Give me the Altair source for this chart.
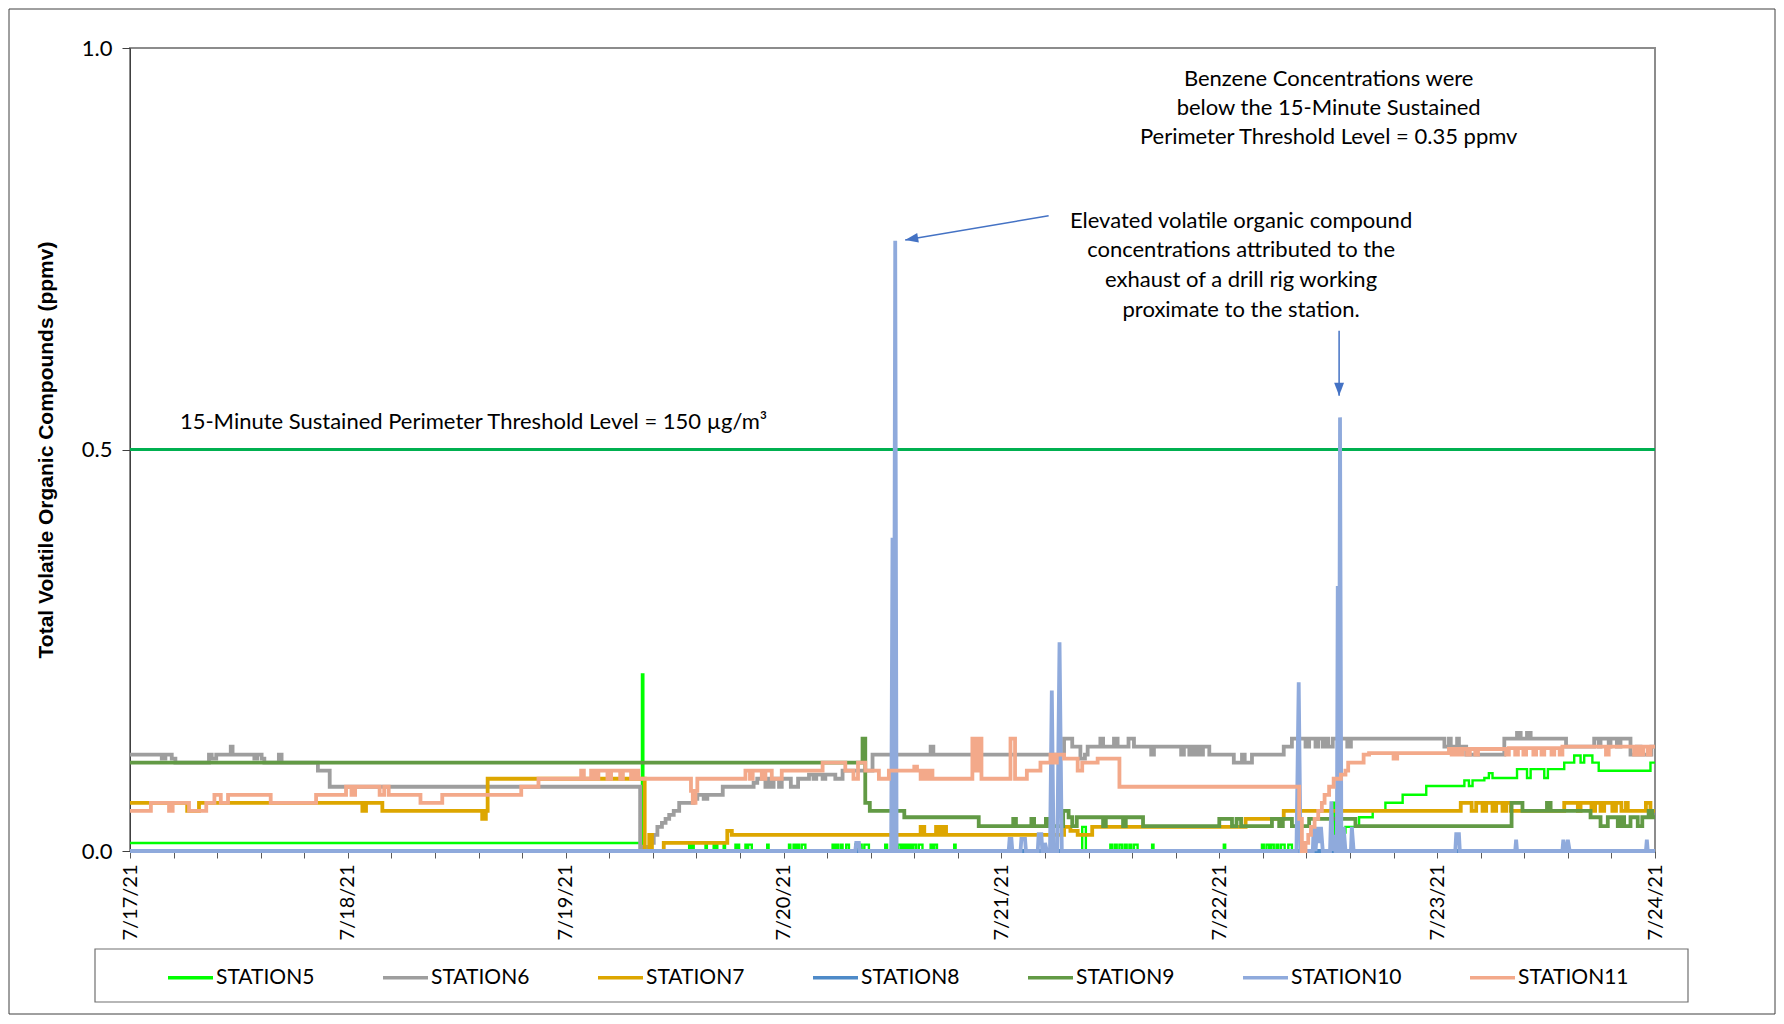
import altair as alt
import pandas as pd

STATIONS = ["STATION5", "STATION6", "STATION7", "STATION8", "STATION9", "STATION10", "STATION11"]
COLORS = ["#00FF00", "#9E9E9E", "#DDA600", "#4E8AC8", "#629A45", "#8FAADC", "#F3A98A"]

# (hours after 7/17/21 00:00, ppmv)
S5 = [(0, 0.01), (56.4, 0.22), (56.55, 0.0),
      (61.6, 0.008), (61.8, 0), (61.9, 0.008), (62.1, 0), (63.4, 0.008), (63.55, 0), (64.3, 0.008), (64.45, 0),
      (64.55, 0.008), (64.7, 0), (65.4, 0.008), (65.55, 0), (66.7, 0.008), (66.85, 0), (66.95, 0.008), (67.1, 0),
      (67.8, 0.008), (68.0, 0), (68.1, 0.008), (68.5, 0), (70.2, 0.008), (70.35, 0), (72.6, 0.008), (72.75, 0),
      (73.1, 0.008), (73.3, 0), (73.5, 0.008), (73.7, 0), (74.0, 0.008), (74.4, 0), (77.4, 0.008), (77.6, 0),
      (77.8, 0.008), (78.0, 0), (78.3, 0.008), (78.5, 0), (78.9, 0.008), (79.2, 0), (79.9, 0.008), (80.1, 0),
      (80.3, 0.008), (80.6, 0), (80.9, 0.008), (81.4, 0), (83.2, 0.008), (83.4, 0), (84.6, 0.008), (84.9, 0),
      (85.1, 0.008), (85.3, 0), (85.5, 0.008), (85.7, 0), (85.9, 0.008), (86.1, 0), (86.3, 0.008), (86.6, 0),
      (86.9, 0.008), (87.3, 0), (88.2, 0.008), (88.4, 0), (88.6, 0.008), (88.9, 0), (90.8, 0.008), (90.95, 0),
      (104.9, 0.03), (105.3, 0), (108.0, 0.008), (108.2, 0), (108.5, 0.008), (108.7, 0), (109.0, 0.008), (109.3, 0),
      (109.6, 0.008), (109.8, 0), (110.1, 0.008), (110.3, 0), (110.6, 0.008), (111.0, 0), (112.6, 0.008), (112.75, 0),
      (120.5, 0.008), (120.65, 0), (124.7, 0.008), (124.9, 0), (125.2, 0.008), (125.5, 0), (125.7, 0.008), (126.0, 0),
      (126.3, 0.008), (126.5, 0), (126.8, 0.008), (127.2, 0), (127.6, 0.008), (128.0, 0), (132.6, 0.06), (132.75, 0),
      (133.2, 0.023), (133.9, 0.03), (135.4, 0.042), (136.9, 0.05), (138.3, 0.06), (140.2, 0.07), (142.8, 0.081),
      (147.0, 0.088), (147.5, 0.081), (147.9, 0.088), (149.2, 0.091), (149.7, 0.097), (150.1, 0.091), (152.8, 0.102),
      (153.9, 0.091), (154.3, 0.102), (155.8, 0.091), (156.2, 0.102), (158.0, 0.11), (159.1, 0.119), (159.8, 0.11),
      (160.2, 0.119), (161.1, 0.11), (161.8, 0.10), (167.5, 0.11), (168, 0.11)]

S6 = [(0, 0.12), (3.5, 0.115), (3.9, 0.12), (4.6, 0.115), (5.0, 0.11), (8.7, 0.12), (9.0, 0.115), (9.5, 0.12),
      (11.1, 0.13), (11.3, 0.12), (13.7, 0.115), (14.0, 0.12), (14.5, 0.115), (14.8, 0.11), (16.4, 0.12), (16.7, 0.11),
      (20.7, 0.10), (22.0, 0.08), (56.2, 0.005), (57.4, 0.01), (57.7, 0.02), (58.1, 0.03), (58.6, 0.035), (59.0, 0.04),
      (59.4, 0.045), (59.9, 0.05), (60.5, 0.06), (62.1, 0.065), (62.5, 0.07), (63.2, 0.065), (63.6, 0.07), (65.3, 0.08),
      (68.7, 0.085), (69.1, 0.09), (70.0, 0.08), (70.3, 0.09), (70.6, 0.08), (70.9, 0.09), (71.5, 0.08), (71.8, 0.09),
      (72.8, 0.08), (73.6, 0.09), (74.8, 0.095), (75.3, 0.09), (75.6, 0.095), (76.3, 0.09), (76.6, 0.095), (77.7, 0.09),
      (78.5, 0.10), (81.8, 0.12), (88.2, 0.13), (88.5, 0.12), (102.9, 0.14), (103.8, 0.13), (104.7, 0.115),
      (105.2, 0.12), (105.5, 0.13), (106.9, 0.14), (107.2, 0.13), (108.4, 0.14), (108.8, 0.13), (110.0, 0.14),
      (110.6, 0.13), (112.5, 0.12), (112.8, 0.13), (115.8, 0.12), (116.1, 0.13), (116.7, 0.12), (117.0, 0.13),
      (117.3, 0.12), (117.6, 0.13), (117.9, 0.12), (118.2, 0.13), (118.9, 0.12), (121.6, 0.11), (122.5, 0.12),
      (122.8, 0.11), (123.6, 0.12), (127.1, 0.13), (128.0, 0.14), (129.5, 0.13), (129.9, 0.14), (130.6, 0.13),
      (130.9, 0.14), (131.4, 0.13), (131.7, 0.14), (132.0, 0.13), (132.5, 0.14), (134.1, 0.13), (134.5, 0.14),
      (144.8, 0.13), (145.3, 0.14), (145.5, 0.13), (146.2, 0.14), (146.4, 0.13), (147.2, 0.12), (151.4, 0.14),
      (152.8, 0.147), (153.2, 0.14), (153.9, 0.147), (154.3, 0.14), (158.2, 0.13), (161.3, 0.14), (161.8, 0.13),
      (162.0, 0.14), (162.9, 0.13), (163.1, 0.14), (163.8, 0.13), (164.2, 0.14), (165.3, 0.12), (166.0, 0.13),
      (166.4, 0.12), (167.6, 0.13), (168, 0.13)]

S7 = [(0, 0.06), (6.3, 0.05), (7.6, 0.06), (25.6, 0.05), (26.0, 0.06), (27.8, 0.05), (38.8, 0.04), (39.2, 0.05),
      (39.4, 0.09), (56.7, 0.0), (57.2, 0.02), (57.5, 0.0), (58.8, 0.01), (65.8, 0.025), (66.3, 0.02), (87.1, 0.03),
      (87.5, 0.02), (88.8, 0.03), (89.2, 0.02), (89.5, 0.03), (89.9, 0.02), (102.9, 0.03), (103.6, 0.025),
      (104.4, 0.02), (106.0, 0.03), (122.9, 0.04), (127.1, 0.05), (146.6, 0.06), (147.8, 0.05), (148.3, 0.06),
      (149.0, 0.05), (149.4, 0.06), (150.1, 0.05), (150.5, 0.06), (151.2, 0.05), (151.6, 0.06), (152.1, 0.05),
      (158.0, 0.06), (159.5, 0.05), (159.8, 0.06), (161.0, 0.05), (161.4, 0.06), (162.0, 0.05), (162.4, 0.06),
      (163.3, 0.05), (163.7, 0.06), (164.3, 0.05), (164.8, 0.06), (165.0, 0.05), (167.0, 0.06), (167.5, 0.05),
      (168, 0.05)]

S8 = [(0, 0.0), (168, 0.0)]

S9 = [(0, 0.11), (80.7, 0.14), (81.0, 0.06), (81.5, 0.05), (85.3, 0.042), (93.5, 0.031), (97.3, 0.04), (97.6, 0.031),
      (99.3, 0.04), (99.6, 0.031), (100.9, 0.04), (101.1, 0.031), (102.8, 0.05), (103.4, 0.042), (103.8, 0.031),
      (104.3, 0.042), (107.2, 0.031), (107.5, 0.042), (109.4, 0.031), (109.7, 0.042), (111.6, 0.031), (120.0, 0.04),
      (121.4, 0.031), (121.9, 0.04), (122.4, 0.031), (125.8, 0.04), (126.6, 0.031), (127.0, 0.04), (128.0, 0.031),
      (129.9, 0.04), (135.0, 0.031), (152.2, 0.06), (153.4, 0.05), (156.1, 0.06), (156.5, 0.05), (160.9, 0.042),
      (162.0, 0.031), (162.8, 0.042), (163.9, 0.031), (164.3, 0.042), (164.6, 0.031), (165.3, 0.042), (166.1, 0.031),
      (166.6, 0.042), (167.3, 0.05), (167.7, 0.042), (168, 0.042)]

S10 = [(0, 0), (79.9, 0), (80.0, 0.01), (80.3, 0.01), (80.4, 0),
       (83.85, 0), (84.0, 0.39), (84.1, 0), (84.15, 0), (84.3, 0.76), (84.45, 0),
       (96.8, 0), (96.9, 0.015), (97.1, 0.015), (97.2, 0), (98.1, 0), (98.2, 0.015), (98.6, 0.015), (98.7, 0),
       (100.0, 0), (100.1, 0.021), (100.4, 0.021), (100.5, 0), (100.7, 0), (100.8, 0.01), (101.0, 0),
       (101.35, 0), (101.55, 0.2), (101.75, 0), (102.15, 0), (102.4, 0.26), (102.65, 0),
       (128.5, 0), (128.75, 0.21), (128.95, 0),
       (130.3, 0), (130.4, 0.03), (130.6, 0.0), (130.8, 0.03), (131.0, 0.01), (131.2, 0.03), (131.4, 0),
       (132.2, 0), (132.35, 0.062), (132.5, 0), (132.6, 0.02), (132.8, 0),
       (132.95, 0), (133.05, 0.33), (133.12, 0), (133.18, 0), (133.3, 0.54), (133.45, 0),
       (133.6, 0), (133.7, 0.03), (133.9, 0), (134.5, 0), (134.6, 0.03), (134.8, 0),
       (146.0, 0), (146.1, 0.021), (146.4, 0.021), (146.5, 0), (152.6, 0), (152.7, 0.014), (152.8, 0),
       (157.8, 0), (157.9, 0.014), (158.1, 0), (158.3, 0), (158.4, 0.014), (158.6, 0),
       (167.0, 0), (167.1, 0.014), (167.2, 0), (168, 0)]

S11 = [(0, 0.05), (2.3, 0.06), (4.3, 0.05), (4.7, 0.06), (6.5, 0.05), (8.4, 0.06), (9.3, 0.07), (10.0, 0.06),
       (10.8, 0.07), (15.5, 0.06), (20.5, 0.07), (23.8, 0.08), (24.4, 0.07), (24.8, 0.08), (27.5, 0.07), (28.0, 0.08),
       (28.5, 0.07), (32.0, 0.06), (34.4, 0.07), (43.1, 0.08), (45.0, 0.09), (49.7, 0.10), (50.0, 0.09), (50.8, 0.10),
       (51.2, 0.09), (51.6, 0.10), (52.6, 0.09), (53.0, 0.10), (54.0, 0.09), (54.3, 0.10), (55.2, 0.09), (55.6, 0.10),
       (56.0, 0.09), (61.8, 0.075), (62.0, 0.06), (62.3, 0.075), (62.5, 0.09), (67.8, 0.10), (68.3, 0.09),
       (68.6, 0.10), (69.6, 0.09), (70.0, 0.10), (70.7, 0.09), (71.8, 0.10), (76.3, 0.11), (78.8, 0.10), (79.7, 0.09),
       (80.2, 0.11), (81.0, 0.10), (82.5, 0.09), (83.6, 0.10), (86.4, 0.105), (86.7, 0.10), (87.1, 0.09),
       (87.5, 0.10), (87.8, 0.09), (88.1, 0.10), (88.4, 0.09), (92.8, 0.14), (93.1, 0.10), (93.4, 0.14), (93.8, 0.09),
       (97.0, 0.14), (97.5, 0.09), (98.8, 0.10), (100.3, 0.11), (101.4, 0.12), (101.8, 0.11), (102.1, 0.12),
       (102.9, 0.115), (104.4, 0.10), (104.9, 0.11), (106.6, 0.115), (109.0, 0.08), (128.8, 0.04), (129.1, 0.0),
       (129.5, 0.01), (129.8, 0.02), (130.1, 0.03), (130.5, 0.04), (130.9, 0.05), (131.3, 0.06), (131.6, 0.07),
       (132.1, 0.08), (132.6, 0.09), (133.4, 0.095), (133.9, 0.10), (134.2, 0.11), (135.9, 0.12), (136.5, 0.122),
       (139.2, 0.115), (139.6, 0.122), (145.3, 0.127), (145.6, 0.12), (146.0, 0.127), (146.4, 0.12), (146.8, 0.127),
       (147.3, 0.12), (147.6, 0.127), (148.2, 0.12), (148.5, 0.127), (151.6, 0.12), (151.9, 0.128), (152.6, 0.12),
       (152.9, 0.128), (153.5, 0.12), (153.8, 0.128), (154.6, 0.12), (154.9, 0.128), (155.5, 0.12), (155.8, 0.128),
       (156.6, 0.12), (156.9, 0.128), (157.5, 0.12), (157.8, 0.13), (162.6, 0.12), (162.9, 0.13), (165.7, 0.12),
       (166.0, 0.13), (166.4, 0.12), (166.7, 0.13), (167.2, 0.12), (167.5, 0.13), (168, 0.13)]

THRESHOLD = [0.5]
NOTE_LEFT = [(5.5, 0.534, "15-Minute Sustained Perimeter Threshold Level = 150 µg/m³")]
NOTE_CENTER = [(132.05, 0.962, "Benzene Concentrations were"),
               (132.05, 0.925, "below the 15-Minute Sustained"),
               (132.05, 0.889, "Perimeter Threshold Level = 0.35 ppmv"),
               (122.4, 0.784, "Elevated volatile organic compound"),
               (122.4, 0.748, "concentrations attributed to the"),
               (122.4, 0.711, "exhaust of a drill rig working"),
               (122.4, 0.674, "proximate to the station.")]
# start (h, v) -> tip (h, v), head angle
ARROWS = [(101.2, 0.791, 85.4, 0.761, 260.4), (133.2, 0.648, 133.2, 0.567, 180)]

BASE = pd.Timestamp("2021-07-17 00:00")


def ts(h):
    return (BASE + pd.Timedelta(minutes=round(h * 60))).strftime("%Y-%m-%dT%H:%M:%S")


def rows(name, pts):
    return [{"station": name, "time": ts(t), "value": v} for t, v in pts]


df5 = pd.DataFrame(rows("STATION5", S5))
df_step = pd.DataFrame(rows("STATION6", S6) + rows("STATION7", S7) + rows("STATION9", S9))
df_lin = pd.DataFrame(rows("STATION8", S8) + rows("STATION10", S10))
df11 = pd.DataFrame(rows("STATION11", S11))

tick_vals = []
for i in range(36):
    m = i * 288
    tick_vals.append(alt.DateTime(year=2021, month=7, date=17 + m // 1440, hours=(m % 1440) // 60, minutes=m % 60))

X = alt.X("time:T",
          scale=alt.Scale(domain=[alt.DateTime(year=2021, month=7, date=17, hours=0),
                                  alt.DateTime(year=2021, month=7, date=24, hours=0)], nice=False),
          axis=alt.Axis(values=tick_vals, title=None, labelAngle=270, labelOverlap=False, labelFlush=False,
                        labelExpr="(hours(datum.value) == 0 && minutes(datum.value) == 0) ? timeFormat(datum.value, '%-m/%-d/%y') : ''",
                        tickSize=7, labelPadding=6, labelFontSize=20, domainColor="#8C8C8C", tickColor="#595959"))
Y = alt.Y("value:Q", scale=alt.Scale(domain=[0, 1], nice=False),
          axis=alt.Axis(values=[0, 0.5, 1], format=".1f", title="Total Volatile Organic Compounds (ppmv)",
                        titleFont="Liberation Sans", titleFontSize=21, titleFontWeight="bold", titleColor="black",
                        titlePadding=25, tickSize=8, labelFontSize=22, labelPadding=10,
                        domainColor="#404040", tickColor="#404040"))
C = alt.Color("station:N", scale=alt.Scale(domain=STATIONS, range=COLORS),
              legend=alt.Legend(title=None, orient="none", legendX=36, legendY=905, direction="horizontal",
                                columns=7, columnPadding=61, symbolType="stroke", symbolSize=2025,
                                symbolStrokeWidth=3.5, labelFontSize=21, labelFont="Lato", labelColor="black",
                                labelOffset=1, padding=0, labelLimit=300))

one = pd.DataFrame({"k": [0]})
frame = alt.Chart(one).mark_rect(fillOpacity=0, stroke="#404040", strokeWidth=1).encode(
    x=alt.value(-121), x2=alt.value(1645), y=alt.value(-39), y2=alt.value(966))
legend_box = alt.Chart(one).mark_rect(fillOpacity=0, stroke="#707070", strokeWidth=1.2).encode(
    x=alt.value(-35), x2=alt.value(1558), y=alt.value(901), y2=alt.value(954))

thr = alt.Chart(pd.DataFrame({"value": THRESHOLD})).mark_rule(color="#00B050", strokeWidth=3).encode(y=Y)

line5 = alt.Chart(df5).mark_line(interpolate="step-after", strokeWidth=2.4).encode(x=X, y=Y, color=C)
lines_step = alt.Chart(df_step).mark_line(interpolate="step-after", strokeWidth=3.8).encode(x=X, y=Y, color=C)
lines_lin = alt.Chart(df_lin).mark_line(interpolate="linear", strokeWidth=3.8).encode(x=X, y=Y, color=C)
line11 = alt.Chart(df11).mark_line(interpolate="step-after", strokeWidth=3.8).encode(x=X, y=Y, color=C)

arrow_df = pd.DataFrame([{"time": ts(a), "value": b, "time2": ts(c), "value2": d} for a, b, c, d, _ in ARROWS])
head_df = pd.DataFrame([{"time": ts(c), "value": d, "angle": e} for a, b, c, d, e in ARROWS])
arrows = alt.Chart(arrow_df).mark_rule(color="#4472C4", strokeWidth=1.5).encode(
    x=X, y=Y, x2="time2:T", y2="value2:Q")
heads = alt.Chart(head_df).mark_point(shape="M0,0L-0.38,1L0.38,1Z", filled=True, size=676,
                                      color="#4472C4", opacity=1).encode(
    x=X, y=Y, angle=alt.Angle("angle:Q", scale=None))

left_df = pd.DataFrame([{"time": ts(a), "value": b, "text": t} for a, b, t in NOTE_LEFT])
center_df = pd.DataFrame([{"time": ts(a), "value": b, "text": t} for a, b, t in NOTE_CENTER])
txt_left = alt.Chart(left_df).mark_text(align="left", baseline="middle", font="Lato", fontSize=22,
                                        color="black").encode(x=X, y=Y, text="text:N")
txt_center = alt.Chart(center_df).mark_text(align="center", baseline="middle", font="Lato", fontSize=22,
                                            color="black").encode(x=X, y=Y, text="text:N")

chart = alt.layer(frame, legend_box, thr, line5, lines_step, lines_lin, line11, arrows, heads,
                  txt_left, txt_center).properties(
    width=1525, height=803, padding=0
).configure_view(stroke="#8C8C8C", strokeWidth=2).configure_axis(
    grid=False, labelFont="Lato", labelColor="black")

chart.save("out.html", embed_options={"renderer": "svg", "actions": False})
